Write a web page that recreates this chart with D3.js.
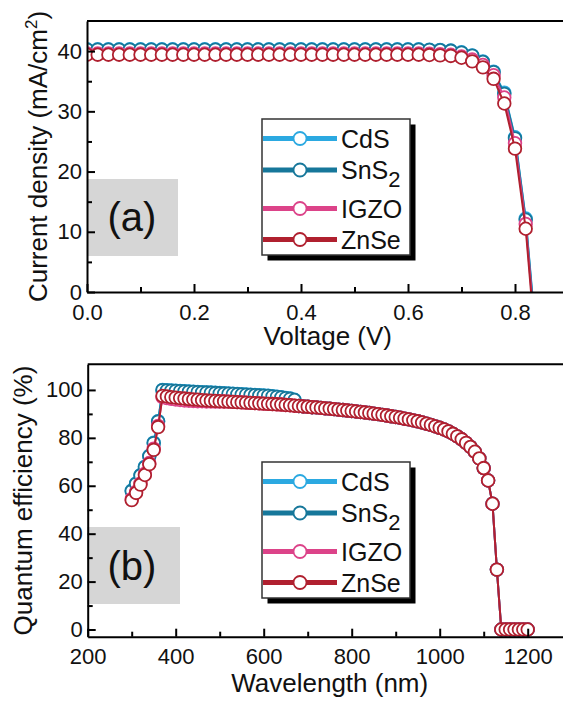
<!DOCTYPE html>
<html><head><meta charset="utf-8">
<script src="https://cdn.jsdelivr.net/npm/d3@7"></script>
<style>
body{margin:0;background:#fff;}
svg{display:block;font-family:"Liberation Sans",Arial,sans-serif;}
</style></head><body>
<svg id="c" width="563" height="704"></svg>
<script>
// ---------- data ----------
const seriesNames = ["CdS", "SnS2", "IGZO", "ZnSe"];
const seriesColors = ["#2ba9e1", "#16779a", "#dc4389", "#b0202f"];

// panel (a): J-V
const voltage = [0,0.02,0.04,0.06,0.08,0.10,0.12,0.14,0.16,0.18,0.20,0.22,0.24,0.26,0.28,0.30,0.32,0.34,0.36,0.38,0.40,0.42,0.44,0.46,0.48,0.50,0.52,0.54,0.56,0.58,0.60,0.62,0.64,0.66,0.68,0.70,0.72,0.74,0.76,0.78,0.80,0.82,0.84];
const jCdS  = [40.3,40.3,40.3,40.3,40.3,40.3,40.3,40.3,40.3,40.3,40.3,40.3,40.3,40.3,40.3,40.3,40.3,40.3,40.3,40.3,40.3,40.3,40.3,40.3,40.3,40.3,40.3,40.3,40.3,40.3,40.3,40.3,40.25,40.2,40.1,39.8,39.3,38.3,36.6,33.1,25.7,12.2,-8];
const jSnS2 = [40.25,40.25,40.25,40.25,40.25,40.25,40.25,40.25,40.25,40.25,40.25,40.25,40.25,40.25,40.25,40.25,40.25,40.25,40.25,40.25,40.25,40.25,40.25,40.25,40.25,40.25,40.25,40.25,40.25,40.25,40.25,40.25,40.2,40.15,40.05,39.75,39.25,38.2,36.5,32.9,25.5,12.0,-8.5];
const jIGZO = [39.6,39.6,39.6,39.6,39.6,39.6,39.6,39.6,39.6,39.6,39.6,39.6,39.6,39.6,39.6,39.6,39.6,39.6,39.6,39.6,39.6,39.6,39.6,39.6,39.6,39.6,39.6,39.6,39.6,39.6,39.6,39.6,39.55,39.5,39.4,39.1,38.6,37.7,36.0,32.3,24.7,11.3,-9.5];
const jZnSe = [39.4,39.4,39.4,39.4,39.4,39.4,39.4,39.4,39.4,39.4,39.4,39.4,39.4,39.4,39.4,39.4,39.4,39.4,39.4,39.4,39.4,39.4,39.4,39.4,39.4,39.4,39.4,39.4,39.4,39.4,39.4,39.4,39.35,39.3,39.2,38.9,38.3,37.3,35.4,31.3,23.8,10.5,-10.5];

// panel (b): quantum efficiency
const wavelength = [300,310,320,330,340,350,360,370,380,390,400,410,420,430,440,450,460,470,480,490,500,510,520,530,540,550,560,570,580,590,600,610,620,630,640,650,660,670,680,690,700,710,720,730,740,750,760,770,780,790,800,810,820,830,840,850,860,870,880,890,900,910,920,930,940,950,960,970,980,990,1000,1010,1020,1030,1040,1050,1060,1070,1080,1090,1100,1110,1120,1130,1140,1150,1160,1170,1180,1190,1200];
const qeCdS  = [58.0,61.0,64.5,68.0,72.5,78.0,87.0,100.0,99.9,99.8,99.7,99.6,99.5,99.4,99.3,99.2,99.1,99.0,98.9,98.8,98.7,98.6,98.5,98.4,98.3,98.2,98.1,98.0,97.9,97.8,97.7,97.6,97.4,97.2,97.0,96.7,96.4,95.9,93.3,93.1,93.0,92.8,92.7,92.5,92.3,92.2,92.0,91.8,91.6,91.4,91.2,91.0,90.8,90.6,90.4,90.1,89.9,89.6,89.3,89.0,88.7,88.4,88.0,87.7,87.3,86.9,86.4,85.9,85.4,84.8,84.2,83.5,82.7,81.7,80.6,79.4,77.9,76.2,74.2,71.4,67.4,62.2,52.5,25.0,0,0,0,0,0,0,0];
const qeSnS2 = [57.8,60.8,64.3,67.8,72.3,77.8,86.8,99.9,99.8,99.7,99.6,99.5,99.4,99.3,99.2,99.1,99.0,98.9,98.8,98.7,98.6,98.5,98.4,98.3,98.2,98.1,98.0,97.9,97.8,97.7,97.6,97.5,97.3,97.1,96.9,96.6,96.3,95.8,93.3,93.1,93.0,92.8,92.7,92.5,92.3,92.2,92.0,91.8,91.6,91.4,91.2,91.0,90.8,90.6,90.4,90.1,89.9,89.6,89.3,89.0,88.7,88.4,88.0,87.7,87.3,86.9,86.4,85.9,85.4,84.8,84.2,83.5,82.7,81.7,80.6,79.4,77.9,76.2,74.2,71.4,67.4,62.2,52.5,25.0,0,0,0,0,0,0,0];
const qeIGZO = [54.5,57.5,61.0,65.0,69.5,75.5,85.0,97.0,96.6,96.3,96.0,95.8,95.6,95.5,95.4,95.3,95.3,95.2,95.2,95.1,95.1,95.2,95.1,95.0,94.9,94.8,94.7,94.6,94.5,94.4,94.3,94.2,94.1,94.0,93.9,93.7,93.6,93.4,93.3,93.1,93.0,92.8,92.7,92.5,92.3,92.2,92.0,91.8,91.6,91.4,91.2,91.0,90.8,90.6,90.4,90.1,89.9,89.6,89.3,89.0,88.7,88.4,88.0,87.7,87.3,86.9,86.4,85.9,85.4,84.8,84.2,83.5,82.7,81.7,80.6,79.4,77.9,76.2,74.2,71.4,67.4,62.2,52.5,25.0,0,0,0,0,0,0,0];
const qeZnSe = [54.0,57.0,60.5,64.5,69.0,75.0,84.5,97.5,97.3,97.0,96.8,96.6,96.4,96.2,96.0,95.9,95.7,95.6,95.5,95.4,95.3,95.2,95.1,95.0,94.9,94.8,94.7,94.6,94.5,94.4,94.3,94.2,94.1,94.0,93.9,93.7,93.6,93.4,93.3,93.1,93.0,92.8,92.7,92.5,92.3,92.2,92.0,91.8,91.6,91.4,91.2,91.0,90.8,90.6,90.4,90.1,89.9,89.6,89.3,89.0,88.7,88.4,88.0,87.7,87.3,86.9,86.4,85.9,85.4,84.8,84.2,83.5,82.7,81.7,80.6,79.4,77.9,76.2,74.2,71.4,67.4,62.2,52.5,25.0,0,0,0,0,0,0,0];

// ticks
const vTicks = [0, 0.2, 0.4, 0.6, 0.8];
const vMinor = [0.1, 0.3, 0.5, 0.7];
const jTicks = [0, 10, 20, 30, 40];
const jMinor = [5, 15, 25, 35];
const wlTicks = [200, 400, 600, 800, 1000, 1200];
const wlMinor = [300, 500, 700, 900, 1100];
const qeTicks = [0, 20, 40, 60, 80, 100];
const qeMinor = [10, 30, 50, 70, 90];

// ---------- drawing ----------
const svg = d3.select("#c");
const TICK_FS = 22, TITLE_FS = 26, LEG_FS = 25;

function drawPanel(cfg) {
  const {x, y, xv, ys, xt, xm, yt, ym, xfmt, tag, box, legendTop, id} = cfg;
  const [x0, x1] = x.range();
  const [yb, yt0] = y.range();

  // gray tag box
  svg.append("rect").attr("x", box[0]).attr("y", box[1]).attr("width", box[2]).attr("height", box[3]).attr("fill", "#d6d6d6");
  svg.append("text").attr("x", box[0] + 45).attr("y", box[1] + box[4]).attr("text-anchor", "middle")
    .attr("font-size", 40).attr("fill", "#111").text(tag);

  // clip
  svg.append("clipPath").attr("id", id).append("rect")
    .attr("x", x0).attr("y", yt0).attr("width", x1 - x0).attr("height", yb - yt0);

  // series
  const sg = svg.append("g").attr("clip-path", `url(#${id})`);
  ys.forEach((vals, i) => {
    const pts = xv.map((d, k) => [d, vals[k]]);
    sg.append("path").datum(pts)
      .attr("fill", "none").attr("stroke", seriesColors[i]).attr("stroke-width", 2)
      .attr("d", d3.line().x(d => x(d[0])).y(d => y(d[1])));
    sg.append("g").selectAll("circle").data(pts).join("circle")
      .attr("cx", d => x(d[0])).attr("cy", d => y(d[1])).attr("r", 6.3)
      .attr("fill", "#fff").attr("stroke", seriesColors[i]).attr("stroke-width", 1.8);
  });

  // axes
  const gx = svg.append("g").attr("transform", `translate(0,${yb})`)
    .call(d3.axisBottom(x).tickValues(xt).tickSizeInner(-8).tickSizeOuter(0).tickPadding(12).tickFormat(xfmt));
  const gxm = svg.append("g").attr("transform", `translate(0,${yb})`)
    .call(d3.axisBottom(x).tickValues(xm).tickSizeInner(-5).tickSizeOuter(0).tickFormat(""));
  gxm.select(".domain").remove();
  const gy = svg.append("g").attr("transform", `translate(${x0},0)`)
    .call(d3.axisLeft(y).tickValues(yt).tickSizeInner(-8).tickSizeOuter(0).tickPadding(5).tickFormat(d3.format("d")));
  const gym = svg.append("g").attr("transform", `translate(${x0},0)`)
    .call(d3.axisLeft(y).tickValues(ym).tickSizeInner(-5).tickSizeOuter(0).tickFormat(""));
  gym.select(".domain").remove();
  [gx, gxm, gy, gym].forEach(g => {
    g.attr("font-family", null).attr("font-size", TICK_FS);
    g.selectAll("path,line").attr("stroke", "#000").attr("stroke-width", 2);
    g.selectAll("text").attr("fill", "#111");
  });
  // top frame
  svg.append("line").attr("x1", x0).attr("x2", x1 + 2).attr("y1", yt0).attr("y2", yt0)
    .attr("stroke", "#000").attr("stroke-width", 2);

  // legend
  const lx = 262, lw = 148, lh = 136;
  svg.append("rect").attr("x", lx + 5.5).attr("y", legendTop + 5.5).attr("width", lw).attr("height", lh).attr("fill", "#000");
  svg.append("rect").attr("x", lx).attr("y", legendTop).attr("width", lw).attr("height", lh)
    .attr("fill", "#fff").attr("stroke", "#333").attr("stroke-width", 1.5);
  const rowY = [19.5, 51, 89.5, 120.5];
  seriesNames.forEach((n, i) => {
    const yy = legendTop + rowY[i];
    svg.append("line").attr("x1", lx + 1).attr("x2", lx + 75).attr("y1", yy).attr("y2", yy)
      .attr("stroke", seriesColors[i]).attr("stroke-width", 5);
    svg.append("circle").attr("cx", lx + 38).attr("cy", yy).attr("r", 6.5)
      .attr("fill", "#fff").attr("stroke", seriesColors[i]).attr("stroke-width", 1.8);
    const t = svg.append("text").attr("x", lx + 79).attr("y", yy + 9).attr("font-size", LEG_FS).attr("fill", "#111");
    if (n === "SnS2") {
      t.append("tspan").text("SnS");
      t.append("tspan").attr("dy", 8).attr("font-size", 22).text("2");
    } else t.text(n);
  });
}

// panel (a)
const xa = d3.scaleLinear().domain([0, 0.9]).range([87, 568.5]);
const ya = d3.scaleLinear().domain([0, 45]).range([292, 21]);
drawPanel({x: xa, y: ya, xv: voltage, ys: [jCdS, jSnS2, jIGZO, jZnSe], xt: vTicks, xm: vMinor,
  yt: jTicks, ym: jMinor, xfmt: d3.format(".1f"), tag: "(a)", box: [87, 179, 91, 77, 52], legendTop: 119, id: "clipA"});

// panel (b)
const xb = d3.scaleLinear().domain([200, 1300]).range([87.7, 571.7]);
const yb = d3.scaleLinear().domain([-3, 110.7]).range([636.7, 364.3]);
drawPanel({x: xb, y: yb, xv: wavelength, ys: [qeCdS, qeSnS2, qeIGZO, qeZnSe], xt: wlTicks, xm: wlMinor,
  yt: qeTicks, ym: qeMinor, xfmt: d3.format("d"), tag: "(b)", box: [87, 527, 93, 77, 53], legendTop: 462, id: "clipB"});

// axis titles
svg.append("text").attr("x", 327.7).attr("y", 345).attr("text-anchor", "middle")
  .attr("font-size", TITLE_FS).attr("fill", "#111").text("Voltage (V)");
svg.append("text").attr("x", 329.7).attr("y", 692).attr("text-anchor", "middle")
  .attr("font-size", TITLE_FS).attr("fill", "#111").text("Wavelength (nm)");
const ytA = svg.append("text").attr("transform", "translate(47,156.5) rotate(-90)").attr("text-anchor", "middle")
  .attr("font-size", TITLE_FS).attr("fill", "#111");
ytA.append("tspan").text("Current density (mA/cm");
ytA.append("tspan").attr("dy", -10).attr("font-size", 17).text("2");
ytA.append("tspan").attr("dy", 10).text(")");
svg.append("text").attr("transform", "translate(32,500.5) rotate(-90)").attr("text-anchor", "middle")
  .attr("font-size", TITLE_FS).attr("fill", "#111").text("Quantum efficiency (%)");
</script>
</body></html>
